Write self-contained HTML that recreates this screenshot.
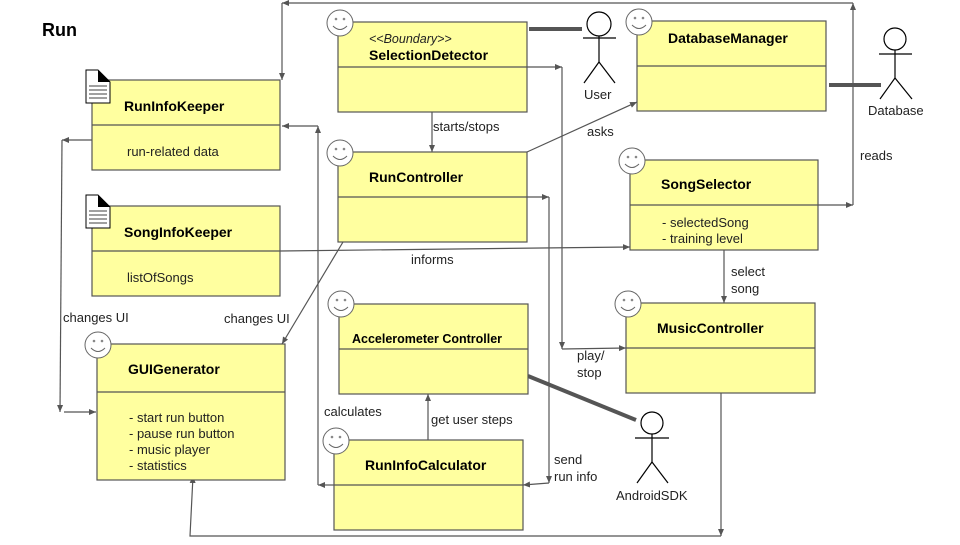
<!DOCTYPE html>
<html><head><meta charset="utf-8"><style>
body{margin:0;background:#fff}
svg text{font-family:"Liberation Sans",Arial,sans-serif}
</style></head><body>
<svg width="960" height="540" viewBox="0 0 960 540" xmlns="http://www.w3.org/2000/svg">
<defs>
<marker id="a" markerWidth="8" markerHeight="8" refX="7" refY="4" orient="auto" markerUnits="userSpaceOnUse"><path d="M0,1 L7,4 L0,7 z" fill="#555"/></marker>
<symbol id="sm" viewBox="-14 -14 28 28" overflow="visible"><circle r="13" fill="#fff" stroke="#666" stroke-width="1"/><circle cx="-4" cy="-4" r="1.3" fill="#888"/><circle cx="4" cy="-4" r="1.3" fill="#888"/><path d="M-7,3 Q0,10 7,3" fill="none" stroke="#666"/></symbol>
</defs>
<text x="42" y="36" font-size="18" font-weight="bold">Run</text>

<g stroke="#555" fill="none" stroke-width="1.2">
<!-- top loop -->
<polyline points="818,205 853,205" marker-end="url(#a)"/>
<polyline points="853,205 853,3" marker-end="url(#a)"/>
<polyline points="853,3 282,3" marker-end="url(#a)"/>
<polyline points="282,3 282,80" marker-end="url(#a)"/>
<!-- selection -> music -->
<polyline points="527,67 562,67" marker-end="url(#a)"/>
<polyline points="562,67 562,349" marker-end="url(#a)"/>
<polyline points="562,349 626,348" marker-end="url(#a)"/>
<!-- runcontroller -> calc -->
<polyline points="527,197 549,197" marker-end="url(#a)"/>
<polyline points="549,197 549,483" marker-end="url(#a)"/>
<polyline points="549,483 523,485" marker-end="url(#a)"/>
<line x1="432" y1="112" x2="432" y2="152" marker-end="url(#a)"/>
<line x1="527" y1="152" x2="637" y2="102" marker-end="url(#a)"/>
<line x1="280" y1="251" x2="630" y2="247" marker-end="url(#a)"/>
<line x1="724" y1="250" x2="724" y2="303" marker-end="url(#a)"/>
<polyline points="721,393 721,536" marker-end="url(#a)"/>
<polyline points="721,536 190,536 193,476" marker-end="url(#a)"/>
<line x1="343" y1="242" x2="282" y2="344" marker-end="url(#a)"/>
<polyline points="92,140 62,140" marker-end="url(#a)"/>
<polyline points="62,140 60,412" marker-end="url(#a)"/>
<polyline points="64,412 96,412" marker-end="url(#a)"/>
<polyline points="318,126 282,126" marker-end="url(#a)"/>
<polyline points="318,485 318,126" marker-end="url(#a)"/>
<polyline points="334,485 318,485" marker-end="url(#a)"/>
<line x1="428" y1="440" x2="428" y2="394" marker-end="url(#a)"/>
</g>

<g stroke="#555" stroke-width="4">
<line x1="529" y1="29" x2="582" y2="29"/>
<line x1="829" y1="85" x2="881" y2="85"/>
<line x1="528" y1="376" x2="636" y2="420"/>
</g>

<g fill="#ffff9f" stroke="#555" stroke-width="1.2">
<rect x="92" y="80" width="188" height="90"/><line x1="92" y1="125" x2="280" y2="125"/>
<rect x="92" y="206" width="188" height="90"/><line x1="92" y1="251" x2="280" y2="251"/>
<rect x="338" y="22" width="189" height="90"/><line x1="338" y1="67" x2="527" y2="67"/>
<rect x="338" y="152" width="189" height="90"/><line x1="338" y1="197" x2="527" y2="197"/>
<rect x="637" y="21" width="189" height="90"/><line x1="637" y1="66" x2="826" y2="66"/>
<rect x="630" y="160" width="188" height="90"/><line x1="630" y1="205" x2="818" y2="205"/>
<rect x="626" y="303" width="189" height="90"/><line x1="626" y1="348" x2="815" y2="348"/>
<rect x="339" y="304" width="189" height="90"/><line x1="339" y1="349" x2="528" y2="349"/>
<rect x="334" y="440" width="189" height="90"/><line x1="334" y1="485" x2="523" y2="485"/>
<rect x="97" y="344" width="188" height="136"/><line x1="97" y1="392" x2="285" y2="392"/>
</g>

<use href="#sm" x="326" y="9" width="28" height="28"/>
<use href="#sm" x="326" y="139" width="28" height="28"/>
<use href="#sm" x="625" y="8" width="28" height="28"/>
<use href="#sm" x="618" y="147" width="28" height="28"/>
<use href="#sm" x="614" y="290" width="28" height="28"/>
<use href="#sm" x="327" y="290" width="28" height="28"/>
<use href="#sm" x="322" y="427" width="28" height="28"/>
<use href="#sm" x="84" y="331" width="28" height="28"/>

<g fill="#fff" stroke="#000" stroke-width="1">
<path d="M86,70 L98,70 L110,82 L110,103 L86,103 z"/>
<path d="M86,195 L98,195 L110,207 L110,228 L86,228 z"/>
</g>
<g fill="#000"><path d="M98,70 L110,82 L98,82 z"/><path d="M98,195 L110,207 L98,207 z"/></g>
<g stroke="#000" stroke-width="0.8">
<line x1="89" y1="86" x2="107" y2="86"/><line x1="89" y1="90" x2="107" y2="90"/><line x1="89" y1="94" x2="107" y2="94"/><line x1="89" y1="98" x2="107" y2="98"/>
<line x1="89" y1="211" x2="107" y2="211"/><line x1="89" y1="215" x2="107" y2="215"/><line x1="89" y1="219" x2="107" y2="219"/><line x1="89" y1="223" x2="107" y2="223"/>
</g>

<g stroke="#000" stroke-width="1.2" fill="none">
<circle cx="599" cy="24" r="12" fill="#fff"/><line x1="599" y1="36" x2="599" y2="62"/><line x1="583" y1="38" x2="616" y2="38"/><line x1="599" y1="62" x2="584" y2="83"/><line x1="599" y1="62" x2="615" y2="83"/>
<circle cx="895" cy="39" r="11" fill="#fff"/><line x1="895" y1="50" x2="895" y2="78"/><line x1="879" y1="54" x2="912" y2="54"/><line x1="895" y1="78" x2="880" y2="99"/><line x1="895" y1="78" x2="912" y2="99"/>
<circle cx="652" cy="423" r="11" fill="#fff"/><line x1="652" y1="434" x2="652" y2="462"/><line x1="635" y1="438" x2="669" y2="438"/><line x1="652" y1="462" x2="637" y2="483"/><line x1="652" y1="462" x2="668" y2="483"/>
</g>

<g font-size="14" font-weight="bold" fill="#000">
<text x="124" y="111">RunInfoKeeper</text>
<text x="124" y="237">SongInfoKeeper</text>
<text x="369" y="60">SelectionDetector</text>
<text x="369" y="182">RunController</text>
<text x="668" y="43">DatabaseManager</text>
<text x="661" y="189">SongSelector</text>
<text x="657" y="333">MusicController</text>
<text x="352" y="343" font-size="12.5">Accelerometer Controller</text>
<text x="365" y="470">RunInfoCalculator</text>
<text x="128" y="374">GUIGenerator</text>
</g>
<g font-size="13" fill="#222">
<text x="369" y="43" font-style="italic" font-size="12.5">&lt;&lt;Boundary&gt;&gt;</text>
<text x="127" y="156">run-related data</text>
<text x="127" y="282">listOfSongs</text>
<text x="662" y="227">- selectedSong</text>
<text x="662" y="243">- training level</text>
<text x="129" y="422">- start run button</text>
<text x="129" y="438">- pause run button</text>
<text x="129" y="454">- music player</text>
<text x="129" y="470">- statistics</text>
<text x="433" y="131">starts/stops</text>
<text x="587" y="136">asks</text>
<text x="860" y="160">reads</text>
<text x="411" y="264">informs</text>
<text x="731" y="276">select</text>
<text x="731" y="293">song</text>
<text x="63" y="322">changes UI</text>
<text x="224" y="323">changes UI</text>
<text x="577" y="360">play/</text>
<text x="577" y="377">stop</text>
<text x="324" y="416">calculates</text>
<text x="431" y="424">get user steps</text>
<text x="554" y="464">send</text>
<text x="554" y="481">run info</text>
<text x="584" y="99">User</text>
<text x="868" y="115">Database</text>
<text x="616" y="500">AndroidSDK</text>
</g>
</svg>
</body></html>
